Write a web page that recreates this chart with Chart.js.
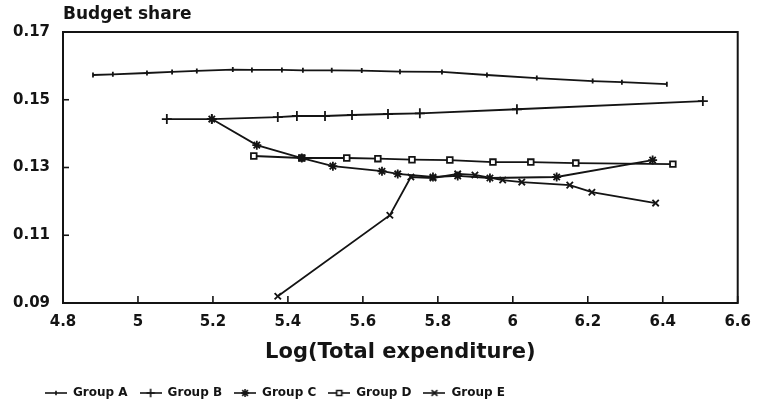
<!DOCTYPE html>
<html>
<head>
<meta charset="utf-8">
<script src="https://cdn.jsdelivr.net/npm/chart.js@4/dist/chart.umd.min.js"></script>
<style>
  html, body { margin: 0; padding: 0; background: #ffffff; }
  #wrap { width: 761px; height: 414px; position: relative; }
</style>
</head>
<body>
<div id="wrap"><canvas id="c" width="761" height="414"></canvas></div>
<script>
// ---- data ----
const seriesNames = ['Group A', 'Group B', 'Group C', 'Group D', 'Group E'];

const groupA_x = [4.88, 4.933, 5.024, 5.091, 5.157, 5.253, 5.304, 5.384, 5.44, 5.517, 5.597, 5.699, 5.811, 5.931, 6.064, 6.213, 6.291, 6.411];
const groupA_y = [0.1573, 0.1575, 0.1579, 0.1582, 0.1585, 0.1589, 0.1588, 0.1588, 0.1587, 0.1587, 0.1586, 0.1583, 0.1582, 0.1573, 0.1564, 0.1555, 0.1552, 0.1546];

const groupB_x = [5.077, 5.197, 5.373, 5.424, 5.499, 5.571, 5.667, 5.752, 6.011, 6.507];
const groupB_y = [0.1443, 0.1443, 0.1449, 0.1452, 0.1452, 0.1455, 0.1458, 0.1460, 0.1472, 0.1496];

const groupC_x = [5.197, 5.317, 5.437, 5.52, 5.651, 5.693, 5.787, 5.853, 5.939, 6.117, 6.373];
const groupC_y = [0.1443, 0.1366, 0.1328, 0.1304, 0.1289, 0.1281, 0.1272, 0.1275, 0.1269, 0.1272, 0.1322];

const groupD_x = [5.309, 5.437, 5.557, 5.64, 5.731, 5.832, 5.947, 6.048, 6.168, 6.427];
const groupD_y = [0.1334, 0.1328, 0.1328, 0.1326, 0.1323, 0.1322, 0.1316, 0.1316, 0.1313, 0.1310];

const groupE_x = [5.373, 5.672, 5.728, 5.787, 5.853, 5.899, 5.973, 6.024, 6.152, 6.211, 6.381];
const groupE_y = [0.0920, 0.1159, 0.1272, 0.1269, 0.1281, 0.1278, 0.1263, 0.1257, 0.1248, 0.1227, 0.1195];

const xTickLabels = ['4.8', '5', '5.2', '5.4', '5.6', '5.8', '6', '6.2', '6.4', '6.6'];
const yTickLabels = ['0.09', '0.11', '0.13', '0.15', '0.17'];

const yAxisTitle = 'Budget share';
const xAxisTitle = 'Log(Total expenditure)';

// ---- styling ----
const INK = '#141414';
const FONT = '"DejaVu Sans", sans-serif';

const markerStyles = [
  { pointStyle: 'line', radius: 2.5, rotation: 90 },
  { pointStyle: 'cross', radius: 5, rotation: 0 },
  { pointStyle: 'star', radius: 4.5, rotation: 0 },
  { pointStyle: 'rect', radius: 4, rotation: 0 },
  { pointStyle: 'crossRot', radius: 4.5, rotation: 0 }
];

function pairs(xs, ys) { return xs.map((x, i) => ({ x: x, y: ys[i] })); }
const allX = [groupA_x, groupB_x, groupC_x, groupD_x, groupE_x];
const allY = [groupA_y, groupB_y, groupC_y, groupD_y, groupE_y];

const datasets = seriesNames.map((name, i) => ({
  label: name,
  data: pairs(allX[i], allY[i]),
  borderColor: INK,
  backgroundColor: '#ffffff',
  borderWidth: 1.8,
  pointStyle: markerStyles[i].pointStyle,
  pointRadius: markerStyles[i].radius,
  pointRotation: markerStyles[i].rotation,
  pointBorderColor: INK,
  pointBackgroundColor: '#ffffff',
  pointBorderWidth: 1.8,
  pointHoverRadius: markerStyles[i].radius,
  tension: 0,
  fill: false
}));

// legend icons: short line with the series marker in the middle
function legendIcon(i) {
  const cv = document.createElement('canvas');
  cv.width = 22; cv.height = 12;
  const ctx = cv.getContext('2d');
  ctx.strokeStyle = INK; ctx.fillStyle = '#ffffff';
  ctx.lineWidth = 1.6;
  ctx.beginPath(); ctx.moveTo(0, 6); ctx.lineTo(22, 6); ctx.stroke();
  Chart.helpers.drawPoint(ctx, {
    pointStyle: markerStyles[i].pointStyle,
    radius: Math.min(markerStyles[i].radius * 0.9, 4.2),
    rotation: markerStyles[i].rotation,
    borderWidth: 1.5
  }, 11, 6);
  return cv;
}

const framePlugin = {
  id: 'frame',
  afterDraw(chart) {
    const { ctx, chartArea: a, scales } = chart;
    ctx.save();
    ctx.strokeStyle = INK;
    ctx.lineWidth = 2;
    ctx.strokeRect(a.left, a.top, a.right - a.left, a.bottom - a.top);
    ctx.lineWidth = 1.6;
    // inward tick marks
    scales.x.ticks.forEach(t => {
      const px = scales.x.getPixelForValue(t.value);
      ctx.beginPath(); ctx.moveTo(px, a.bottom); ctx.lineTo(px, a.bottom - 7); ctx.stroke();
    });
    scales.y.ticks.forEach(t => {
      const py = scales.y.getPixelForValue(t.value);
      ctx.beginPath(); ctx.moveTo(a.left, py); ctx.lineTo(a.left + 6, py); ctx.stroke();
    });
    // y-axis title above the axis
    ctx.fillStyle = INK;
    ctx.font = 'bold 17px ' + FONT;
    ctx.textAlign = 'left';
    ctx.textBaseline = 'middle';
    ctx.fillText(yAxisTitle, a.left, 15);
    ctx.restore();
  }
};

new Chart(document.getElementById('c'), {
  type: 'line',
  data: { datasets: datasets },
  options: {
    responsive: false,
    animation: false,
    events: [],
    layout: { padding: { left: 33, right: 19, top: 32, bottom: 5 } },
    scales: {
      x: {
        type: 'linear',
        min: 4.8, max: 6.6,
        grid: { display: false, drawTicks: false },
        border: { display: false },
        ticks: {
          stepSize: 0.2,
          padding: 10,
          color: INK,
          font: { family: FONT, size: 15, weight: 'bold' },
          maxRotation: 0,
          autoSkip: false,
          callback: (v, i) => xTickLabels[i]
        },
        title: {
          display: true,
          text: xAxisTitle,
          color: INK,
          font: { family: FONT, size: 21, weight: 'bold' },
          padding: { top: 0, bottom: 10 }
        },
        afterFit(s) { s.height = 72; }
      },
      y: {
        type: 'linear',
        min: 0.09, max: 0.17,
        grid: { display: false, drawTicks: false },
        border: { display: false },
        ticks: {
          stepSize: 0.02,
          mirror: true,
          padding: -50,
          color: INK,
          font: { family: FONT, size: 15, weight: 'bold' },
          callback: (v, i) => yTickLabels[i]
        },
        afterFit(s) { s.width = 30; }
      }
    },
    plugins: {
      tooltip: { enabled: false },
      legend: {
        display: true,
        position: 'bottom',
        align: 'start',
        labels: {
          usePointStyle: true,
          pointStyleWidth: 22,
          boxHeight: 12,
          padding: 12,
          color: INK,
          font: { family: FONT, size: 12, weight: 'bold' },
          generateLabels(chart) {
            const items = Chart.defaults.plugins.legend.labels.generateLabels(chart);
            items.forEach((it, i) => { it.pointStyle = legendIcon(i); it.rotation = 0; });
            return items;
          }
        }
      }
    }
  },
  plugins: [framePlugin]
});
</script>
</body>
</html>
